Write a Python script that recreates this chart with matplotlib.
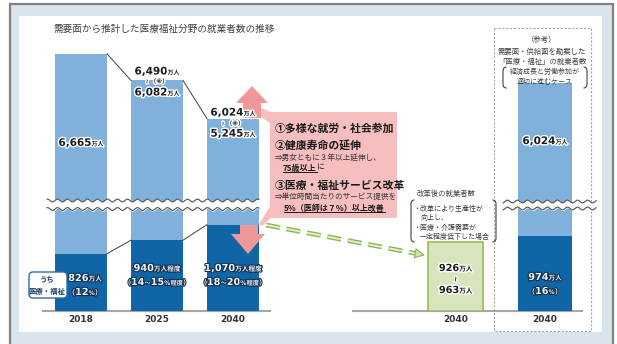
import numpy as np
import matplotlib
matplotlib.use('Agg')
import matplotlib.pyplot as plt
import matplotlib.patheffects as pe
from matplotlib.patches import Rectangle, Polygon, FancyBboxPatch, PathPatch
from matplotlib.path import Path
from matplotlib.offsetbox import TextArea, HPacker, AnnotationBbox

plt.rcParams['font.family'] = ['Noto Sans CJK JP', 'DejaVu Sans']

# ---- data (万人) ----
years = ['2018', '2025', '2040']
total_workers = [6665, 6082, 5245]          # 就業者数
total_upper = [None, 6490, 6024]            # 上限ケース
medical_workers = [826, 940, 1070]          # うち医療・福祉
medical_share = [['12'], ['14', '15'], ['18', '20']]
medical_approx = [False, True, True]
reform_range = [926, 963]                   # 改革後の就業者数
ref_total = 6024                            # 参考ケース
ref_medical = 974
ref_share = '16'
ref_year = '2040'

# ---- layout ----
W, H = 617, 344
x_main = [0, 1, 2]
x_reform = 4.93
x_ref = 6.105
w_main, w_side = 0.685, 0.72
LIGHT, DARK = '#80b1da', '#0f65a6'
PINK_BOX, PINK_ARROW = '#f6bebe', '#ee9898'

# broken value axis: lower part (medical) and upper part (all workers)
scale_v = [345, 1202, 3460, 9000]
scale_h = [0, 102, 111, 111 + (9000 - 3460) * 0.0456]


def fwd(v):
    return np.interp(v, scale_v, scale_h)


def inv(h):
    return np.interp(h, scale_h, scale_v)


fig = plt.figure(figsize=(W / 100, H / 100), dpi=100)
ov = fig.add_axes([0, 0, 1, 1], zorder=0)
ov.set_xlim(0, W)
ov.set_ylim(H, 0)
ov.axis('off')
P = ov.transData  # pixel coordinates, origin top-left

ov.add_patch(Rectangle((10, 4), 603, 345, facecolor='#d9e4ed', edgecolor='#808080', lw=1.6))
ov.add_patch(Rectangle((19, 16), 583, 316, facecolor='white', edgecolor='none'))

ax = fig.add_axes([5 / W, 33 / H, 608 / W, 292 / H], zorder=1)
ax.patch.set_visible(False)
ax.set_autoscale_on(False)
ax.set_yscale('function', functions=(fwd, inv))
ax.set_xlim(-1, 7)
ax.set_ylim(345, inv(292))
ax.axis('off')
y0 = 345

# ---- bars ----
ax.bar(x_main, total_workers, width=w_main, color=LIGHT, zorder=2)
ax.bar(x_main, medical_workers, width=w_main, color=DARK, zorder=2.1)
ax.bar([x_ref], [ref_total], width=w_side, color=LIGHT, zorder=2)
ax.bar([x_ref], [ref_medical], width=w_side, color=DARK, zorder=2.1)
ax.bar([x_reform], [reform_range[0]], width=w_side, color='#d8e4bc',
       edgecolor='#9bbb59', lw=1.2, zorder=2)

# connecting lines between bar tops
for vals in (total_workers, medical_workers):
    for i in range(len(vals) - 1):
        ax.plot([x_main[i] + w_main / 2, x_main[i + 1] - w_main / 2], [vals[i], vals[i + 1]],
                color='#404040', lw=0.7, zorder=3)

# baseline
for xa, xb in ((43, 270), (353, 582)):
    ax.plot([xa, xb], [311, 311], color='#a6a6a6', lw=1.5, transform=P, clip_on=False, zorder=1.5)

# axis break bands
def wave_band(xa, xb, ya, yb):
    xs = np.linspace(xa, xb, 300)
    w1 = ya + 1.4 * np.sin(xs / 10 * 2 * np.pi)
    w2 = yb + 1.4 * np.sin(xs / 10 * 2 * np.pi)
    ax.fill_between(xs, w1, w2, color='white', transform=P, zorder=3, clip_on=False)
    ax.plot(xs, w1, color='#505050', lw=0.8, transform=P, zorder=3.1, clip_on=False)
    ax.plot(xs, w2, color='#505050', lw=0.8, transform=P, zorder=3.1, clip_on=False)


wave_band(47, 259, 200.5, 209)
wave_band(503, 596, 201.5, 208.5)

# ---- pink arrows and callout ----
up = [(252, 86), (236, 103), (243, 103), (243, 118), (261, 118), (261, 103), (268, 103)]
down = [(240, 225), (258, 225), (258, 234), (265, 234), (248, 254), (231, 234), (240, 234)]
for poly in (up, down):
    ax.add_patch(Polygon(poly, closed=True, facecolor=PINK_ARROW, edgecolor='none',
                         transform=P, zorder=4, clip_on=False))
ax.add_patch(Polygon([(261, 108), (271, 112), (271, 124), (261, 117)], facecolor=PINK_BOX,
                     edgecolor='none', transform=P, zorder=4, clip_on=False))
ax.add_patch(Polygon([(259, 224), (271, 205), (271, 218), (262, 226)], facecolor=PINK_BOX,
                     edgecolor='none', transform=P, zorder=4, clip_on=False))
ax.add_patch(Rectangle((270, 112), 127, 106, facecolor=PINK_BOX, edgecolor='none',
                       transform=P, zorder=4, clip_on=False))

def ptext(x, y, s, size, bold=False, color='#1a1a1a', ha='left', **kw):
    return ax.text(x, y, s, fontsize=size, fontweight='bold' if bold else 'normal', color=color,
                   ha=ha, va='center', transform=P, zorder=6, clip_on=False, **kw)


ptext(53, 29, '需要面から推計した医療福祉分野の就業者数の推移', 6.9, color='#404040')

ptext(275, 128, '①多様な就労・社会参加', 7.8, bold=True)
ptext(275, 145, '②健康寿命の延伸', 7.8, bold=True)
ptext(275, 158, '⇒男女ともに３年以上延伸し、', 5.5, color='#333333')
u1 = ptext(283, 168, '75歳以上', 5.8, bold=True)
ptext(275, 186, '③医療・福祉サービス改革', 7.8, bold=True)
ptext(275, 197, '⇒単位時間当たりのサービス提供を', 5.5, color='#333333')
u2 = ptext(284, 208, '5％（医師は７％）以上改善', 5.8, bold=True)

# green dashed arrow
sx, sy, ex, ey = 266, 225, 424, 255
d = np.array([ex - sx, ey - sy], float)
L = np.hypot(*d)
d /= L
nrm = np.array([-d[1], d[0]])
bx, by = ex - 9 * d[0], ey - 9 * d[1]
ax.plot([sx, bx], [sy, by], color='#8fb356', lw=3.4, dashes=(3, 1.4), transform=P, zorder=4, clip_on=False)
ax.plot([sx, bx], [sy, by], color='#e3efcc', lw=1.4, dashes=(3 * 3.4 / 1.4, 1.4 * 3.4 / 1.4),
        transform=P, zorder=4.1, clip_on=False)
head = [(ex, ey), (bx + 4.5 * nrm[0], by + 4.5 * nrm[1]), (bx - 4.5 * nrm[0], by - 4.5 * nrm[1])]
ax.add_patch(Polygon(head, facecolor='#cfe2a8', edgecolor='#8fb356', lw=0.8, transform=P,
                     zorder=4.2, clip_on=False))

# reference dashed frame
ax.add_patch(Rectangle((494, 28), 97, 303, facecolor='none', edgecolor='#a6a6a6', lw=0.8,
                       linestyle=(0, (2, 1.5)), transform=P, zorder=1.6, clip_on=False))


def paren(x, ya, yb, side):
    dx = 3.5 * side
    verts = [(x + dx, ya), (x, ya), (x, ya + 4), (x, yb - 4), (x, yb), (x + dx, yb)]
    codes = [Path.MOVETO, Path.CURVE3, Path.CURVE3, Path.LINETO, Path.CURVE3, Path.CURVE3]
    ax.add_patch(PathPatch(Path(verts, codes), facecolor='none', edgecolor='#404040', lw=0.8,
                           transform=P, zorder=5, clip_on=False))


paren(503, 67, 88, 1)
paren(587, 67, 88, -1)
paren(411, 200, 242, 1)
paren(496, 200, 242, -1)

GRAY = '#404040'
ptext(542, 40, '（参考）', 5.3, color=GRAY, ha='center')
ptext(542, 52, '需要面・供給面を勘案した', 5.3, color=GRAY, ha='center')
ptext(542, 62, '「医療・福祉」の就業者数', 5.3, color=GRAY, ha='center')
ptext(545, 72, '経済成長と労働参加が', 5.0, color=GRAY, ha='center')
ptext(545, 81, '適切に進むケース', 5.0, color=GRAY, ha='center')

ptext(446, 194, '改革後の就業者数', 5.3, color=GRAY, ha='center')
ptext(413, 209, '・改革により生産性が', 5.0, color=GRAY)
ptext(420, 218, '向上し、', 5.0, color=GRAY)
ptext(413, 228, '・医療・介護需要が', 5.0, color=GRAY)
ptext(420, 237, '一定程度低下した場合', 5.0, color=GRAY)

# うち医療・福祉 tag
ax.add_patch(FancyBboxPatch((29, 272), 38, 26, boxstyle='round,pad=0,rounding_size=4',
                            facecolor='white', edgecolor='#2e6da4', lw=1.0, transform=P,
                            zorder=5, clip_on=False))
ptext(47, 279, 'うち', 5.3, bold=True, color='#1f3f66', ha='center')
ptext(47, 291, '医療・福祉', 5.3, bold=True, color='#1f3f66', ha='center')

# ---- value labels ----
ON_LIGHT = dict(color='#1c1c1c', path_effects=[pe.withStroke(linewidth=2, foreground='white')])
ON_DARK = dict(color='#eef3f8', path_effects=[pe.withStroke(linewidth=1.6, foreground='#10304d')])
NUM_FONT = ['DejaVu Sans', 'Noto Sans CJK JP']


def rich(parts, x, v, off_px, style, dx_px=0):
    boxes = []
    for s, size in parts:
        props = dict(fontsize=size, fontweight='bold', family=NUM_FONT, **style)
        boxes.append(TextArea(s, textprops=props))
    pack = HPacker(children=boxes, align='baseline', pad=0, sep=0)
    ab = AnnotationBbox(pack, (x, v), xybox=(dx_px * 0.72, off_px * 0.72), xycoords='data',
                        boxcoords='offset points', frameon=False, box_alignment=(0.5, 0.5),
                        pad=0, zorder=6, annotation_clip=False)
    ax.add_artist(ab)


def fmt(v):
    return f'{v:,}'


NS, US = 7.5, 4.3      # number / unit sizes (upper labels)
NL, UL = 7.0, 4.8      # lower labels

# totals
rich([(fmt(total_workers[0]), NS), ('万人', US)], x_main[0], total_workers[0], -89, ON_LIGHT)
for i, (off_hi, off_mark, off_lo) in ((1, (9, -1, -12)), (2, (6, -5, -15))):
    rich([(fmt(total_upper[i]), NS), ('万人', US)], x_main[i], total_workers[i], off_hi, ON_LIGHT)
    rich([('≀ （※）', 4.3)], x_main[i], total_workers[i], off_mark, ON_LIGHT)
    rich([(fmt(total_workers[i]), NS), ('万人', US)], x_main[i], total_workers[i], off_lo, ON_LIGHT)
rich([(fmt(ref_total), NS), ('万人', US)], x_ref, ref_total, -58, ON_LIGHT)

# medical / welfare share
for i in range(3):
    unit = '万人程度' if medical_approx[i] else '万人'
    share = medical_share[i]
    parts = [('（', 5.0), (share[0], NL)]
    if len(share) > 1:
        parts += [('～', 4.5), (share[1], NL)]
    parts += [('%程度' if medical_approx[i] else '%', 4.5), ('）', 5.0)]
    hi, lo = (43, 29) if medical_approx[i] else (33, 19)
    dx = 0 if medical_approx[i] else 4
    rich([(fmt(medical_workers[i]), NL), (unit, UL)], x_main[i], y0, hi, ON_DARK, dx)
    rich(parts, x_main[i], y0, lo, ON_DARK, dx)

rich([(fmt(ref_medical), NL), ('万人', UL)], x_ref, y0, 34, ON_DARK)
rich([('（', 5.0), (ref_share, NL), ('%', 4.5), ('）', 5.0)], x_ref, y0, 20, ON_DARK)

rich([(fmt(reform_range[0]), NL), ('万人', UL)], x_reform, y0, 43, ON_LIGHT)
rich([('≀', 5.5)], x_reform, y0, 32, ON_LIGHT)
rich([(fmt(reform_range[1]), NL), ('万人', UL)], x_reform, y0, 21, ON_LIGHT)

# year labels
for xp, yr in zip(x_main + [x_reform, x_ref], years + [ref_year, ref_year]):
    ax.annotate(yr, (xp, y0), xytext=(0, -9 * 0.72), textcoords='offset points', ha='center',
                va='center', fontsize=6.5, fontweight='bold', color='#333333',
                family=NUM_FONT, annotation_clip=False)

# underlines for emphasised text
fig.canvas.draw()
rend = fig.canvas.get_renderer()
for t in (u1, u2):
    bb = t.get_window_extent(rend)
    (xa, _), (xb, _) = P.inverted().transform([(bb.x0, bb.y0), (bb.x1, bb.y0)])
    yb = P.inverted().transform([(0, bb.y0)])[0][1]
    ax.plot([xa, xb], [yb - 0.5, yb - 0.5], color='#1a1a1a', lw=0.7, transform=P,
            zorder=6, clip_on=False)
x_ni = P.inverted().transform([(u1.get_window_extent(rend).x1, 0)])[0][0]
ptext(x_ni, 168, 'に', 5.6)

fig.savefig('out.png', dpi=100)
